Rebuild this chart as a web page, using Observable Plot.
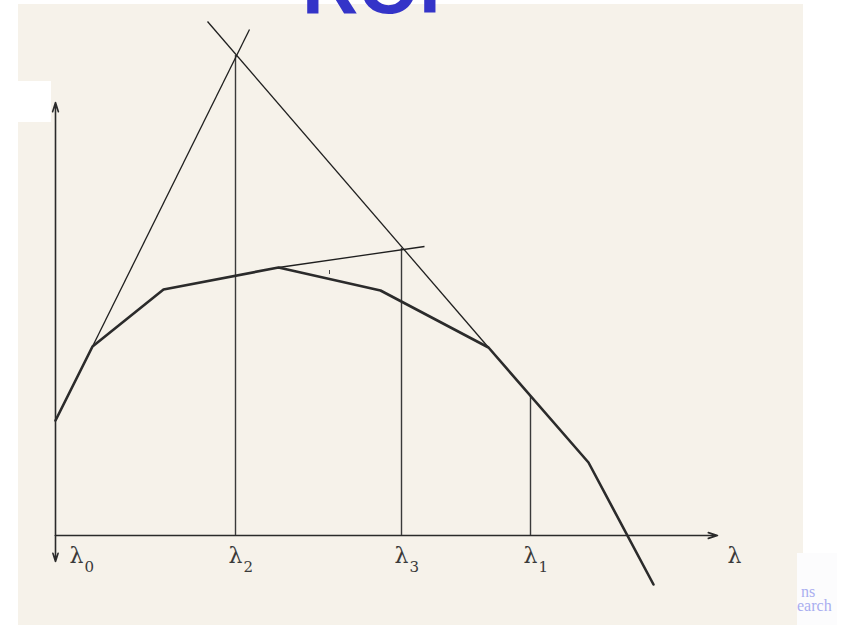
<!DOCTYPE html>
<html>
<head>
<meta charset="utf-8">
<script src="https://cdn.jsdelivr.net/npm/d3@7"></script>
<script src="https://cdn.jsdelivr.net/npm/@observablehq/plot@0.6"></script>
<style>
  html, body { margin: 0; padding: 0; background: #ffffff; }
  #stage { position: relative; width: 848px; height: 625px; overflow: hidden; }
  .paper { position: absolute; left: 18px; top: 4px; width: 785px; height: 621px; background: #f6f2ea; }
  .glow { position: absolute; left: 797px; top: 553px; width: 40px; height: 72px; background: #fcfcfd; }
  .note {
    position: absolute; font-family: "Liberation Serif", "DejaVu Serif", serif; font-size: 16px;
    line-height: 13px; color: #a9aef0; white-space: nowrap;
  }
  .note.a { left: 801px; top: 585px; }
  .note.b { left: 797px; top: 599px; }
  .tab { position: absolute; left: 18px; top: 81px; width: 33px; height: 41px; background: #ffffff; }
  .title {
    position: absolute; left: 302px; top: -53px; margin: 0;
    font-family: "Liberation Sans", Arial, sans-serif; font-weight: bold;
    font-size: 78px; line-height: 78px; color: #3434c8; white-space: nowrap;
  }
  #chart { position: absolute; left: 0; top: 0; }
  #chart svg { background: transparent; }
</style>
</head>
<body>
<div id="stage">
  <div class="paper"></div>
  <div class="glow"></div>
  <div class="note a">ns</div>
  <div class="note b">earch</div>
  <div class="tab"></div>
  <div class="title">ROF</div>
  <div id="chart"></div>
</div>
<script>
// Piecewise-linear dual function over λ (origin at λ0 on the axis)
const curveX = [0, 37, 108, 223, 325, 433, 533, 598];
const curveY = [115, 189, 246, 268, 245, 188, 73, -49];

// Supporting lines (tangents) at the breakpoints: start and end points
const tangentX1 = [37, 152, 223];
const tangentY1 = [189, 514, 268];
const tangentX2 = [194, 433, 369];
const tangentY2 = [506, 188, 289];

// Iterates λ2, λ3, λ1 and the height each vertical reaches
const iterNames = ["2", "3", "1"];
const iterX = [180, 346, 475];
const iterTop = [480, 287, 139];

// Axis labels
const labelNames = ["0", "2", "3", "1"];
const labelX = [21, 180, 346, 475];
const axisEnd = 662;
const axisTop = 433;
const axisBottom = -26;
const axisLabelX = 679;

const curve = curveX.map((x, i) => ({x, y: curveY[i]}));
const tangents = tangentX1.map((x1, i) => ({x1, y1: tangentY1[i], x2: tangentX2[i], y2: tangentY2[i]}));
const iterates = iterX.map((x, i) => ({name: iterNames[i], x, top: iterTop[i]}));
const labels = labelX.map((x, i) => ({name: labelNames[i], x}));

const serif = "DejaVu Serif, Liberation Serif, serif";

const chart = Plot.plot({
  width: 848,
  height: 625,
  margin: 0,
  x: {domain: [-55, 793], axis: null},
  y: {domain: [-90, 535], axis: null},
  style: {background: "transparent", overflow: "visible"},
  marks: [
    // axes with arrowheads
    Plot.arrow([0], {x1: 0, y1: 0, x2: axisEnd, y2: 0, stroke: "#2a2a2a", strokeWidth: 1.6, headLength: 9, headAngle: 35}),
    Plot.arrow([0], {x1: 0, y1: 0, x2: 0, y2: axisTop, stroke: "#2a2a2a", strokeWidth: 1.6, headLength: 9, headAngle: 35}),
    Plot.arrow([0], {x1: 0, y1: 0, x2: 0, y2: axisBottom, stroke: "#2a2a2a", strokeWidth: 1.6, headLength: 9, headAngle: 35}),
    // verticals at the iterates
    Plot.ruleX(iterates, {x: "x", y1: 0, y2: "top", stroke: "#3a3a3a", strokeWidth: 1.4}),
    // tangent lines
    Plot.link(tangents, {x1: "x1", y1: "y1", x2: "x2", y2: "y2", stroke: "#1f1f1f", strokeWidth: 1.3}),
    // small mark on the flat tangent
    Plot.ruleX([274], {x: d => d, y1: 261, y2: 265, stroke: "#444", strokeWidth: 1}),
    // the function itself
    Plot.line(curve, {x: "x", y: "y", stroke: "#2b2b2b", strokeWidth: 2.6, strokeLinejoin: "round"}),
    // λ labels with subscripts
    Plot.text(labels, {x: "x", y: 0, text: () => "λ", dy: 27, lineAnchor: "bottom", fontFamily: serif, fontSize: 22, fill: "#3a3a3a"}),
    Plot.text(labels, {x: "x", y: 0, text: "name", dx: 8, dy: 36, textAnchor: "start", lineAnchor: "bottom", fontFamily: serif, fontSize: 15, fill: "#3a3a3a"}),
    Plot.text([axisLabelX], {x: d => d, y: 0, text: () => "λ", dy: 27, lineAnchor: "bottom", fontFamily: serif, fontSize: 22, fill: "#3a3a3a"})
  ]
});

document.getElementById("chart").appendChild(chart);
</script>
</body>
</html>
